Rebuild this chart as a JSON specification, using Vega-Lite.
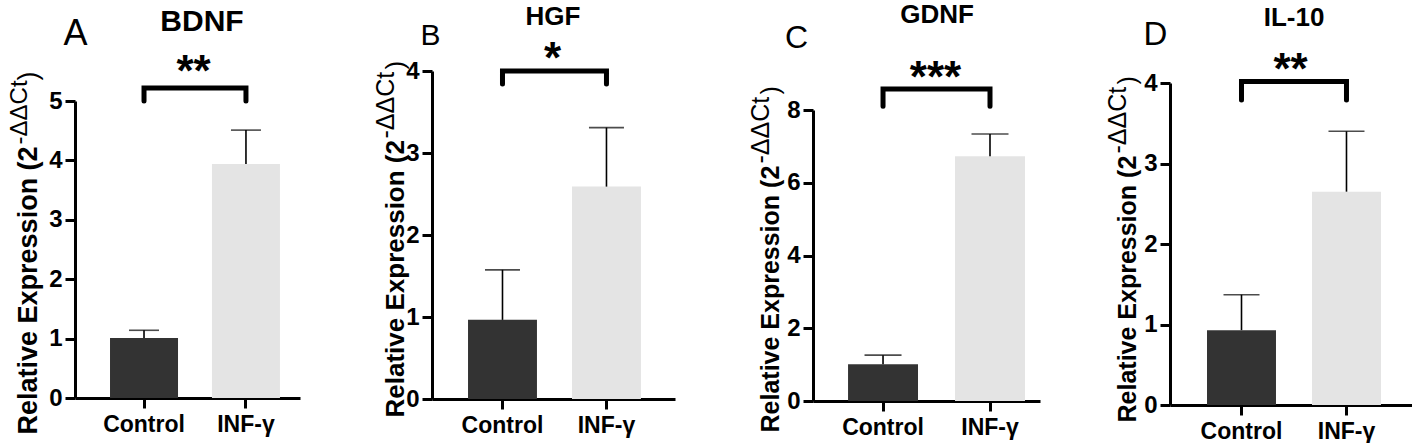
{
  "$schema": "https://vega.github.io/schema/vega-lite/v6.json",
  "background": "white",
  "padding": {"left": 7, "top": 2, "right": 0, "bottom": 0},
  "bounds": "flush",
  "spacing": 132,
  "config": {
    "font": "Liberation Sans",
    "view": {"stroke": null},
    "axis": {"grid": false, "domainColor": "#000", "domainWidth": 3, "tickColor": "#000", "tickWidth": 3, "tickSize": 10, "labelColor": "#000", "labelFont": "Liberation Sans", "labelFontSize": 23, "labelFontWeight": "bold", "titleColor": "#000", "titleFont": "Liberation Sans"},
    "axisLeft": {"labelFontSize": 24},
    "title": {"font": "Liberation Sans", "fontWeight": "bold", "color": "#000", "anchor": "middle", "frame": "group", "baseline": "alphabetic"}
  },
  "hconcat": [
    {
      "width": 225, "height": 327,
      "title": {"text": "BDNF", "fontSize": 30, "dx": 14.5, "offset": -22},
      "data": {"values": [{"group": "Control", "mean": 1.01, "upper": 1.14}, {"group": "INF-γ", "mean": 3.94, "upper": 4.51}]},
      "layer": [
        {"mark": {"type": "bar"},
         "encoding": {
           "x": {"field": "group", "type": "nominal", "scale": {"paddingInner": 0.333, "paddingOuter": 0.27, "align": 0.636}, "axis": {"orient": "bottom", "title": null, "labelAngle": 0, "labelPadding": 5}},
           "y": {"field": "mean", "type": "quantitative", "scale": {"domain": [0, 5], "range": [327, 30], "nice": false}, "axis": {"orient": "left", "values": [0, 1, 2, 3, 4, 5], "labelPadding": 3, "title": "Relative Expression (2", "titleFontSize": 27, "titleFontWeight": "bold", "titleAngle": -90, "titleAlign": "left", "titleBaseline": "alphabetic", "titleX": -39, "titleY": 363}},
           "color": {"field": "group", "type": "nominal", "scale": {"domain": ["Control", "INF-γ"], "range": ["#333333", "#e4e4e4"]}, "legend": null}
         }},
        {"mark": {"type": "rule", "color": "#000", "strokeWidth": 1.6},
         "encoding": {
           "x": {"field": "group", "type": "nominal", "axis": {"orient": "top", "title": "A", "domain": false, "ticks": false, "labels": false, "titleFontSize": 36, "titleFontWeight": "normal", "titleAngle": 0, "titleAlign": "center", "titleBaseline": "alphabetic", "titleX": 0, "titleY": -27}},
           "y": {"field": "mean", "type": "quantitative", "axis": {"orient": "left", "domain": false, "ticks": false, "labels": false, "title": "-ΔΔCt", "titleFontSize": 24, "titleFontWeight": "normal", "titleAngle": -90, "titleAlign": "left", "titleBaseline": "alphabetic", "titleX": -49, "titleY": 73}},
           "y2": {"field": "upper"}
         }},
        {"mark": {"type": "tick", "color": "#000", "thickness": 1.6, "size": 30},
         "encoding": {
           "x": {"field": "group", "type": "nominal", "axis": {"orient": "top", "title": "**", "domain": false, "ticks": false, "labels": false, "titleFontSize": 44, "titleFontWeight": "bold", "titleAngle": 0, "titleAlign": "center", "titleBaseline": "alphabetic", "titleX": 118, "titleY": 14}},
           "y": {"field": "upper", "type": "quantitative", "axis": {"orient": "left", "domain": false, "ticks": false, "labels": false, "title": ")", "titleFontSize": 27, "titleFontWeight": "normal", "titleAngle": -90, "titleAlign": "left", "titleBaseline": "alphabetic", "titleX": -39, "titleY": 9}}
         }},
        {"data": {"values": [{"group": "Control", "level": 5.0, "step": 1}, {"group": "Control", "level": 5.22, "step": 2}, {"group": "INF-γ", "level": 5.22, "step": 3}, {"group": "INF-γ", "level": 5.0, "step": 4}]},
         "mark": {"type": "line", "color": "#000", "strokeWidth": 5, "strokeCap": "round"},
         "encoding": {
           "x": {"field": "group", "type": "nominal", "axis": null},
           "y": {"field": "level", "type": "quantitative", "axis": null},
           "order": {"field": "step", "type": "quantitative"}
         }}
      ],
      "resolve": {"axis": {"x": "independent", "y": "independent"}}
    },
    {
      "width": 249, "height": 328,
      "title": {"text": "HGF", "fontSize": 26, "dx": -3.5, "offset": -10},
      "data": {"values": [{"group": "Control", "mean": 0.965, "upper": 1.575}, {"group": "INF-γ", "mean": 2.59, "upper": 3.31}]},
      "layer": [
        {"mark": {"type": "bar"},
         "encoding": {
           "x": {"field": "group", "type": "nominal", "scale": {"range": [0, 243], "paddingInner": 0.337, "paddingOuter": 0.337, "align": 0.514}, "axis": {"orient": "bottom", "title": null, "labelAngle": 0, "labelPadding": 5}},
           "y": {"field": "mean", "type": "quantitative", "scale": {"domain": [0, 4], "range": [328, 0], "nice": false}, "axis": {"orient": "left", "values": [0, 1, 2, 3, 4], "labelPadding": 3, "title": "Relative Expression (2", "titleFontSize": 26, "titleFontWeight": "bold", "titleAngle": -90, "titleAlign": "left", "titleBaseline": "alphabetic", "titleX": -29, "titleY": 346}},
           "color": {"field": "group", "type": "nominal", "scale": {"domain": ["Control", "INF-γ"], "range": ["#333333", "#e4e4e4"]}, "legend": null}
         }},
        {"mark": {"type": "rule", "color": "#000", "strokeWidth": 1.6},
         "encoding": {
           "x": {"field": "group", "type": "nominal", "axis": {"orient": "top", "title": "B", "domain": false, "ticks": false, "labels": false, "titleFontSize": 30, "titleFontWeight": "normal", "titleAngle": 0, "titleAlign": "center", "titleBaseline": "alphabetic", "titleX": -2, "titleY": -27}},
           "y": {"field": "mean", "type": "quantitative", "axis": {"orient": "left", "domain": false, "ticks": false, "labels": false, "title": "-ΔΔCt", "titleFontSize": 25, "titleFontWeight": "normal", "titleAngle": -90, "titleAlign": "left", "titleBaseline": "alphabetic", "titleX": -39, "titleY": 67}},
           "y2": {"field": "upper"}
         }},
        {"mark": {"type": "tick", "color": "#000", "thickness": 1.6, "size": 35},
         "encoding": {
           "x": {"field": "group", "type": "nominal", "axis": {"orient": "top", "title": "*", "domain": false, "ticks": false, "labels": false, "titleFontSize": 44, "titleFontWeight": "bold", "titleAngle": 0, "titleAlign": "center", "titleBaseline": "alphabetic", "titleX": 120, "titleY": 1}},
           "y": {"field": "upper", "type": "quantitative", "axis": {"orient": "left", "domain": false, "ticks": false, "labels": false, "title": ")", "titleFontSize": 26, "titleFontWeight": "normal", "titleAngle": -90, "titleAlign": "left", "titleBaseline": "alphabetic", "titleX": -29, "titleY": -2}}
         }},
        {"data": {"values": [{"group": "Control", "level": 3.84, "step": 1}, {"group": "Control", "level": 4.0, "step": 2}, {"group": "INF-γ", "level": 4.0, "step": 3}, {"group": "INF-γ", "level": 3.84, "step": 4}]},
         "mark": {"type": "line", "color": "#000", "strokeWidth": 5, "strokeCap": "round"},
         "encoding": {
           "x": {"field": "group", "type": "nominal", "axis": null},
           "y": {"field": "level", "type": "quantitative", "axis": null},
           "order": {"field": "step", "type": "quantitative"}
         }}
      ],
      "resolve": {"axis": {"x": "independent", "y": "independent"}}
    },
    {
      "width": 225, "height": 330,
      "title": {"text": "GDNF", "fontSize": 26, "dx": 11.5, "offset": -7},
      "data": {"values": [{"group": "Control", "mean": 1.01, "upper": 1.26}, {"group": "INF-γ", "mean": 6.73, "upper": 7.34}]},
      "layer": [
        {"mark": {"type": "bar"},
         "encoding": {
           "x": {"field": "group", "type": "nominal", "scale": {"range": [0, 227], "paddingInner": 0.346, "paddingOuter": 0.234, "align": 0.7}, "axis": {"orient": "bottom", "title": null, "labelAngle": 0, "labelPadding": 5}},
           "y": {"field": "mean", "type": "quantitative", "scale": {"domain": [0, 8], "range": [330, 39], "nice": false}, "axis": {"orient": "left", "values": [0, 2, 4, 6, 8], "labelPadding": 3, "title": "Relative Expression (2", "titleFontSize": 25, "titleFontWeight": "bold", "titleAngle": -90, "titleAlign": "left", "titleBaseline": "alphabetic", "titleX": -35, "titleY": 361}},
           "color": {"field": "group", "type": "nominal", "scale": {"domain": ["Control", "INF-γ"], "range": ["#333333", "#e4e4e4"]}, "legend": null}
         }},
        {"mark": {"type": "rule", "color": "#000", "strokeWidth": 1.6},
         "encoding": {
           "x": {"field": "group", "type": "nominal", "axis": {"orient": "top", "title": "C", "domain": false, "ticks": false, "labels": false, "titleFontSize": 32, "titleFontWeight": "normal", "titleAngle": 0, "titleAlign": "center", "titleBaseline": "alphabetic", "titleX": -17, "titleY": -24}},
           "y": {"field": "mean", "type": "quantitative", "axis": {"orient": "left", "domain": false, "ticks": false, "labels": false, "title": "-ΔΔCt", "titleFontSize": 25, "titleFontWeight": "normal", "titleAngle": -90, "titleAlign": "left", "titleBaseline": "alphabetic", "titleX": -45, "titleY": 92}},
           "y2": {"field": "upper"}
         }},
        {"mark": {"type": "tick", "color": "#000", "thickness": 1.6, "size": 37},
         "encoding": {
           "x": {"field": "group", "type": "nominal", "axis": {"orient": "top", "title": "***", "domain": false, "ticks": false, "labels": false, "titleFontSize": 44, "titleFontWeight": "bold", "titleAngle": 0, "titleAlign": "center", "titleBaseline": "alphabetic", "titleX": 122, "titleY": 20}},
           "y": {"field": "upper", "type": "quantitative", "axis": {"orient": "left", "domain": false, "ticks": false, "labels": false, "title": ")", "titleFontSize": 25, "titleFontWeight": "normal", "titleAngle": -90, "titleAlign": "left", "titleBaseline": "alphabetic", "titleX": -35, "titleY": 23}}
         }},
        {"data": {"values": [{"group": "Control", "level": 8.1, "step": 1}, {"group": "Control", "level": 8.58, "step": 2}, {"group": "INF-γ", "level": 8.58, "step": 3}, {"group": "INF-γ", "level": 8.1, "step": 4}]},
         "mark": {"type": "line", "color": "#000", "strokeWidth": 5, "strokeCap": "round"},
         "encoding": {
           "x": {"field": "group", "type": "nominal", "axis": null},
           "y": {"field": "level", "type": "quantitative", "axis": null},
           "order": {"field": "step", "type": "quantitative"}
         }}
      ],
      "resolve": {"axis": {"x": "independent", "y": "independent"}}
    },
    {
      "width": 242, "height": 334,
      "title": {"text": "IL-10", "fontSize": 26, "dx": 3, "offset": -13},
      "data": {"values": [{"group": "Control", "mean": 0.93, "upper": 1.37}, {"group": "INF-γ", "mean": 2.65, "upper": 3.4}]},
      "layer": [
        {"mark": {"type": "bar"},
         "encoding": {
           "x": {"field": "group", "type": "nominal", "scale": {"paddingInner": 0.343, "paddingOuter": 0.324, "align": 0.544}, "axis": {"orient": "bottom", "title": null, "labelAngle": 0, "labelPadding": 5}},
           "y": {"field": "mean", "type": "quantitative", "scale": {"domain": [0, 4], "range": [334, 12], "nice": false}, "axis": {"orient": "left", "values": [0, 1, 2, 3, 4], "labelPadding": 3, "title": "Relative Expression (2", "titleFontSize": 25, "titleFontWeight": "bold", "titleAngle": -90, "titleAlign": "left", "titleBaseline": "alphabetic", "titleX": -35, "titleY": 351}},
           "color": {"field": "group", "type": "nominal", "scale": {"domain": ["Control", "INF-γ"], "range": ["#333333", "#e4e4e4"]}, "legend": null}
         }},
        {"mark": {"type": "rule", "color": "#000", "strokeWidth": 1.6},
         "encoding": {
           "x": {"field": "group", "type": "nominal", "axis": {"orient": "top", "title": "D", "domain": false, "ticks": false, "labels": false, "titleFontSize": 33, "titleFontWeight": "normal", "titleAngle": 0, "titleAlign": "center", "titleBaseline": "alphabetic", "titleX": -15, "titleY": -27}},
           "y": {"field": "mean", "type": "quantitative", "axis": {"orient": "left", "domain": false, "ticks": false, "labels": false, "title": "-ΔΔCt", "titleFontSize": 25, "titleFontWeight": "normal", "titleAngle": -90, "titleAlign": "left", "titleBaseline": "alphabetic", "titleX": -45, "titleY": 82}},
           "y2": {"field": "upper"}
         }},
        {"mark": {"type": "tick", "color": "#000", "thickness": 1.6, "size": 36},
         "encoding": {
           "x": {"field": "group", "type": "nominal", "axis": {"orient": "top", "title": "**", "domain": false, "ticks": false, "labels": false, "titleFontSize": 44, "titleFontWeight": "bold", "titleAngle": 0, "titleAlign": "center", "titleBaseline": "alphabetic", "titleX": 120, "titleY": 12}},
           "y": {"field": "upper", "type": "quantitative", "axis": {"orient": "left", "domain": false, "ticks": false, "labels": false, "title": ")", "titleFontSize": 25, "titleFontWeight": "normal", "titleAngle": -90, "titleAlign": "left", "titleBaseline": "alphabetic", "titleX": -35, "titleY": 13}}
         }},
        {"data": {"values": [{"group": "Control", "level": 3.79, "step": 1}, {"group": "Control", "level": 4.02, "step": 2}, {"group": "INF-γ", "level": 4.02, "step": 3}, {"group": "INF-γ", "level": 3.79, "step": 4}]},
         "mark": {"type": "line", "color": "#000", "strokeWidth": 5, "strokeCap": "round"},
         "encoding": {
           "x": {"field": "group", "type": "nominal", "axis": null},
           "y": {"field": "level", "type": "quantitative", "axis": null},
           "order": {"field": "step", "type": "quantitative"}
         }}
      ],
      "resolve": {"axis": {"x": "independent", "y": "independent"}}
    }
  ]
}
